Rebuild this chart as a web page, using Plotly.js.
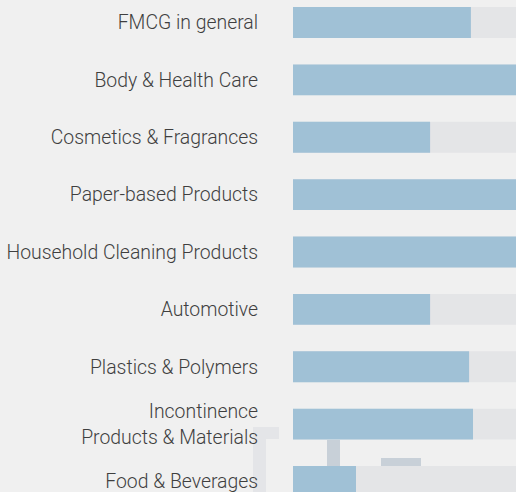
<!DOCTYPE html>
<html>
<head>
<meta charset="utf-8">
<script src="https://cdn.plot.ly/plotly-3.0.1.min.js"></script>
<style>html,body{margin:0;padding:0;background:#f0f0f0;overflow:hidden;}</style>
</head>
<body>
<div id="chart" style="width:516px;height:492px;"></div>
<script>
const categories = [
  "FMCG in general",
  "Body & Health Care",
  "Cosmetics & Fragrances",
  "Paper-based Products",
  "Household Cleaning Products",
  "Automotive",
  "Plastics & Polymers",
  "Incontinence<br>Products & Materials",
  "Food & Beverages"
];
const values = [59.3, 100, 45.7, 100, 100, 45.7, 58.7, 60, 21];
const fullScale = [100, 100, 100, 100, 100, 100, 100, 100, 100];

const W = 516, H = 492, L = 293;
const px = x => (x - L) / (W - L);
const py = y => 1 - y / H;

const barW = 0.54;
const traces = [
  {type:'bar', orientation:'h', y:categories, x:fullScale, width:barW,
   marker:{color:'#e4e5e7'}, hoverinfo:'skip', showlegend:false},
  {type:'bar', orientation:'h', y:categories, x:values, width:barW,
   marker:{color:'#a0c1d6'}, showlegend:false}
];

const shapes = [
  {type:'rect', xref:'paper', yref:'paper', x0:px(253), x1:px(279), y0:py(439), y1:py(427), fillcolor:'#e4e5e8', line:{width:0}, layer:'below'},
  {type:'rect', xref:'paper', yref:'paper', x0:px(253), x1:px(266), y0:py(500), y1:py(439), fillcolor:'#e4e5e8', line:{width:0}, layer:'below'},
  {type:'rect', xref:'paper', yref:'paper', x0:px(327), x1:px(340), y0:py(466), y1:py(440), fillcolor:'#c8d0d8', line:{width:0}, layer:'below'},
  {type:'rect', xref:'paper', yref:'paper', x0:px(381), x1:px(421), y0:py(466), y1:py(458), fillcolor:'#c8d0d8', line:{width:0}, layer:'below'}
];

const layout = {
  width: W, height: H,
  margin:{l:L, r:0, t:0, b:0, pad:0},
  paper_bgcolor:'#f0f0f0', plot_bgcolor:'#f0f0f0',
  barmode:'overlay',
  showlegend:false,
  font:{family:'Roboto, sans-serif', size:19.4, color:'#3f3f3f', weight:300},
  xaxis:{range:[0, 74.33], showgrid:false, zeroline:false, showticklabels:false, ticks:'', fixedrange:true},
  yaxis:{type:'category', range:[8.183, -0.392], showgrid:false, zeroline:false,
         ticks:'outside', ticklen:30, tickcolor:'rgba(0,0,0,0)', showline:false,
         tickfont:{family:'Roboto, sans-serif', size:19.4, color:'#3f3f3f', weight:300}},
  shapes: shapes
};

Plotly.newPlot('chart', traces, layout, {displayModeBar:false, staticPlot:true});
</script>
</body>
</html>
